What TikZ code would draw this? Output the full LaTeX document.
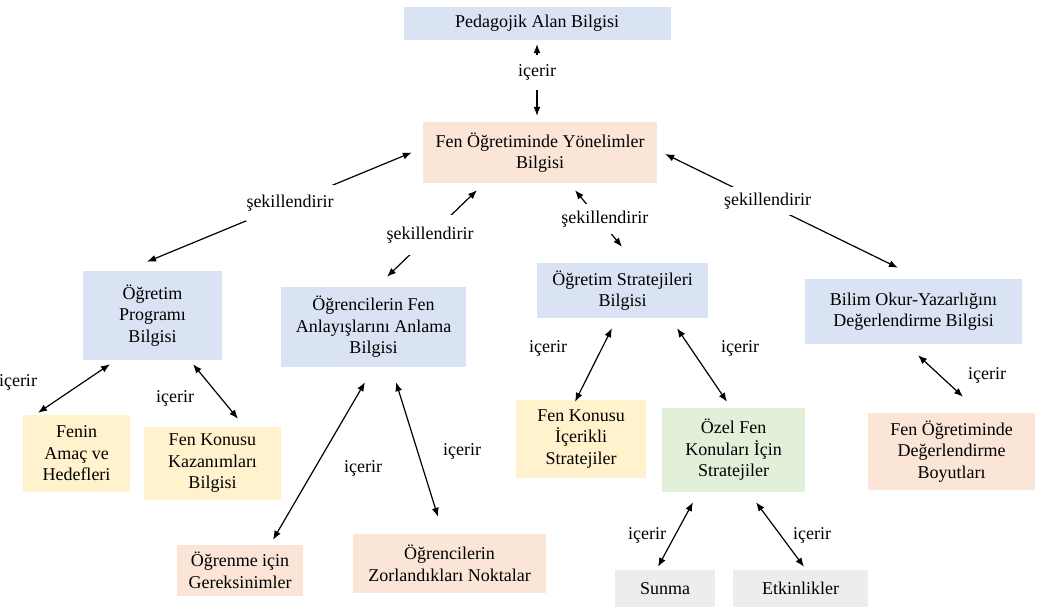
\documentclass[tikz,border=0pt]{standalone}
\usepackage{fontspec}
\setmainfont{Liberation Serif}
\usetikzlibrary{arrows.meta}
\definecolor{blu}{RGB}{218,227,243}
\definecolor{sal}{RGB}{251,229,214}
\definecolor{yel}{RGB}{255,242,204}
\definecolor{grn}{RGB}{226,240,217}
\definecolor{gry}{RGB}{237,237,237}
\tikzset{
  box/.style={fill=#1, inner sep=0pt, align=center, font=\fontsize{18}{21.5}\selectfont},
  link/.style={{Latex[length=9pt,width=7pt]}-{Latex[length=9pt,width=7pt]}, line width=1.2pt},
  cut/.style={fill=white, inner xsep=1pt, inner ysep=#1, font=\fontsize{18}{21.5}\selectfont},
  lbl/.style={inner sep=0pt, font=\fontsize{18}{21.5}\selectfont}
}
\begin{document}
\begin{tikzpicture}[x=1pt,y=1pt]
    \useasboundingbox (0,0) rectangle (1043,-610);
    \node[box=blu, minimum width=267pt, minimum height=33pt] (ped) at (537,-23.5) {Pedagojik Alan Bilgisi};
    \node[box=sal, minimum width=234pt, minimum height=61pt] (yon) at (540,-152.5) {Fen Öğretiminde Yönelimler\\Bilgisi};
    \node[box=blu, minimum width=139pt, minimum height=89pt] (opb) at (152.5,-315.5) {Öğretim\\Programı\\Bilgisi};
    \node[box=blu, minimum width=185pt, minimum height=80pt] (ofa) at (373.5,-327) {Öğrencilerin Fen\\Anlayışlarını Anlama\\Bilgisi};
    \node[box=blu, minimum width=171pt, minimum height=55pt] (osb) at (622.5,-290.5) {Öğretim Stratejileri\\Bilgisi};
    \node[box=blu, minimum width=217pt, minimum height=65pt] (bod) at (913.5,-311.5) {Bilim Okur-Yazarlığını\\Değerlendirme Bilgisi};
    \node[box=yel, minimum width=107pt, minimum height=77pt] (fah) at (76.5,-453.5) {Fenin\\Amaç ve\\Hedefleri};
    \node[box=yel, minimum width=137pt, minimum height=73pt] (fkk) at (212.5,-463.5) {Fen Konusu\\Kazanımları\\Bilgisi};
    \node[box=sal, minimum width=126pt, minimum height=51pt] (ogr) at (240,-570.5) {Öğrenme için\\Gereksinimler};
    \node[box=sal, minimum width=193pt, minimum height=59pt] (ozn) at (449.5,-563.5) {Öğrencilerin\\Zorlandıkları Noktalar};
    \node[box=yel, minimum width=130pt, minimum height=78pt] (fki) at (581,-439) {Fen Konusu\\İçerikli\\Stratejiler};
    \node[box=grn, minimum width=143pt, minimum height=84pt] (ozf) at (733.5,-450) {Özel Fen\\Konuları İçin\\Stratejiler};
    \node[box=gry, minimum width=100pt, minimum height=37pt] (sun) at (665,-588.5) {Sunma};
    \node[box=gry, minimum width=135pt, minimum height=37pt] (etk) at (800.5,-588.5) {Etkinlikler};
    \node[box=sal, minimum width=167pt, minimum height=77pt] (fdb) at (951.5,-451.5) {Fen Öğretiminde\\Değerlendirme\\Boyutları};
    \draw[link] ([yshift=-4pt]ped.south) -- node[cut=9.5pt, pos=0.4] (c1) {içerir} ([xshift=-3pt,yshift=6pt]yon.north);
    \draw[link] ([xshift=-11pt]yon.west) -- node[cut=10pt, pos=0.46] (c2) {şekillendirir} ([xshift=-5.5pt,yshift=9pt]opb.north);
    \draw[link] ([xshift=-63pt,yshift=-7pt]yon.south) -- node[cut=12pt, pos=0.52] (c3) {şekillendirir} ([xshift=13.5pt,yshift=10pt]ofa.north);
    \draw[link] ([xshift=35pt,yshift=-7pt]yon.south) -- node[cut=7pt, pos=0.51, xshift=6pt] (c4) {şekillendirir} ([xshift=-0.5pt,yshift=16pt]osb.north);
    \draw[link] ([xshift=8pt,yshift=-1.5pt]yon.east) -- node[cut=6pt, pos=0.44, yshift=3pt] (c5) {şekillendirir} ([xshift=-15.5pt,yshift=11pt]bod.north);
    \draw[link] ([xshift=-42.5pt,yshift=-4pt]opb.south) -- ([xshift=-38.5pt,yshift=2pt]fah.north);
    \draw[link] ([xshift=40.5pt,yshift=-4pt]opb.south) -- ([xshift=25.5pt,yshift=8pt]fkk.north);
    \draw[link] ([xshift=-8.5pt,yshift=-15pt]ofa.south) -- ([xshift=33pt,yshift=5pt]ogr.north);
    \draw[link] ([xshift=22.5pt,yshift=-15pt]ofa.south) -- ([xshift=-11.5pt,yshift=17pt]ozn.north);
    \draw[link] ([xshift=-10.5pt,yshift=-10pt]osb.south) -- ([xshift=-6pt,yshift=-2pt]fki.north);
    \draw[link] ([xshift=54.5pt,yshift=-10pt]osb.south) -- ([xshift=-6.5pt,yshift=6pt]ozf.north);
    \draw[link] ([xshift=-40.5pt,yshift=-10pt]ozf.south) -- ([xshift=-7pt,yshift=3pt]sun.north);
    \draw[link] ([xshift=22.5pt,yshift=-10pt]ozf.south) -- ([xshift=3.5pt,yshift=3pt]etk.north);
    \draw[link] ([xshift=4.5pt,yshift=-11pt]bod.south) -- ([xshift=11.5pt,yshift=16pt]fdb.north);
    \node[lbl] (l6) at (18,-382) {içerir};
    \node[lbl] (l7) at (175,-398) {içerir};
    \node[lbl] (l8) at (363,-468) {içerir};
    \node[lbl] (l9) at (462,-451) {içerir};
    \node[lbl] (l10) at (548,-348) {içerir};
    \node[lbl] (l11) at (740,-348) {içerir};
    \node[lbl] (l12) at (647,-535) {içerir};
    \node[lbl] (l13) at (812,-535) {içerir};
    \node[lbl] (l14) at (987,-375) {içerir};
\end{tikzpicture}
\end{document}
